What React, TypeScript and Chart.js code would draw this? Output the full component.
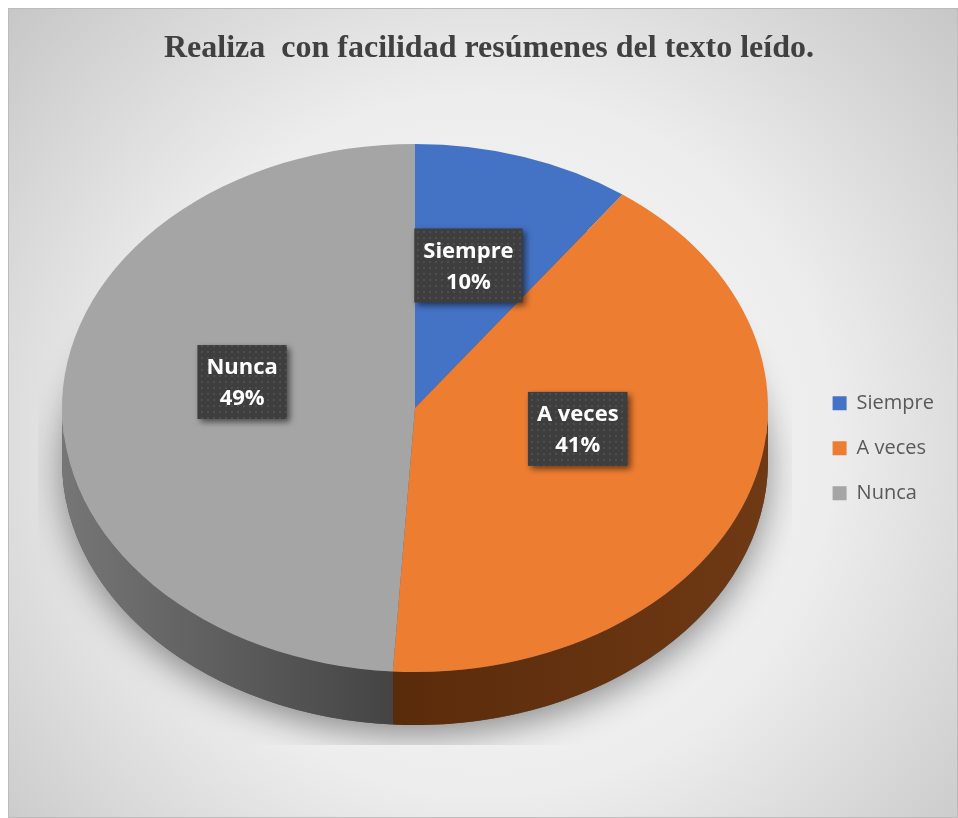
import React, { useEffect, useRef } from 'react';
import { Chart, registerables } from 'chart.js';

Chart.register(...registerables);

const titleText = 'Realiza  con facilidad resúmenes del texto leído.';
const categories = ['Siempre', 'A veces', 'Nunca'];
const values = [10, 41, 49];
const faceColors = ['#4472C4', '#ED7D31', '#A5A5A5'];
const sideColors = [
  ['#22396b', '#2b4783'],
  ['#5a2b0b', '#6f3914'],
  ['#767676', '#444444'],
];

// 3D view (projection of the library's pie)
const VIEW = { cx: 407, cy: 400, rx: 353, ry: 264, depth: 53 };

function makePattern(ctx: CanvasRenderingContext2D) {
  const c = document.createElement('canvas');
  c.width = 6;
  c.height = 6;
  const p = c.getContext('2d')!;
  p.fillStyle = '#3e3e3e';
  p.fillRect(0, 0, 6, 6);
  p.fillStyle = '#4e4e4e';
  p.fillRect(1, 1, 2, 2);
  return ctx.createPattern(c, 'repeat');
}

const pie3d = {
  id: 'pie3d',
  beforeDraw(chart: any) {
    const { ctx, width, height } = chart;
    ctx.save();
    const gx = width * 0.5;
    const gy = height * 0.54;
    const g = ctx.createRadialGradient(gx, gy, 0, gx, gy, Math.hypot(width, height) * 0.56);
    g.addColorStop(0, '#f8f8f8');
    g.addColorStop(0.5, '#ededed');
    g.addColorStop(1, '#c0c0c0');
    ctx.fillStyle = g;
    ctx.fillRect(0, 0, width, height);
    ctx.strokeStyle = '#bcbcbc';
    ctx.lineWidth = 1;
    ctx.strokeRect(0.5, 0.5, width - 1, height - 1);
    ctx.restore();
  },
  beforeDatasetsDraw(chart: any) {
    const { ctx } = chart;
    const meta = chart.getDatasetMeta(0);
    const arcs = meta.data;
    const { x, y, outerRadius } = arcs[0].getProps(['x', 'y', 'outerRadius'], true);
    const { cx, cy, rx, ry, depth } = VIEW;

    // soft shadow (clipped like the original plot area)
    ctx.save();
    ctx.beginPath();
    ctx.rect(cx - rx - 24, 0, 2 * rx + 48, cy + ry + depth + 20);
    ctx.clip();
    ctx.shadowColor = 'rgba(0,0,0,0.42)';
    ctx.shadowBlur = 34;
    ctx.shadowOffsetY = 10;
    ctx.beginPath();
    ctx.ellipse(cx, cy + depth, rx, ry, 0, 0, Math.PI * 2);
    ctx.fillStyle = '#555';
    ctx.fill();
    ctx.restore();

    // sides
    arcs.forEach((arc: any, i: number) => {
      const { startAngle, endAngle } = arc.getProps(['startAngle', 'endAngle'], true);
      const a = Math.max(startAngle, 0);
      const b = Math.min(endAngle, Math.PI);
      if (b <= a) return;
      ctx.save();
      ctx.beginPath();
      ctx.ellipse(cx, cy, rx, ry, 0, a, b, false);
      ctx.ellipse(cx, cy + depth, rx, ry, 0, b, a, true);
      ctx.closePath();
      const xa = cx + rx * Math.cos(a);
      const xb = cx + rx * Math.cos(b);
      const g = ctx.createLinearGradient(Math.min(xa, xb), 0, Math.max(xa, xb), 0);
      const [c1, c2] = sideColors[i];
      g.addColorStop(0, c1);
      g.addColorStop(1, c2);
      ctx.fillStyle = g;
      ctx.fill();
      ctx.restore();
    });

    ctx.save();
    ctx.translate(cx, cy);
    ctx.scale(rx / outerRadius, ry / outerRadius);
    ctx.translate(-x, -y);
  },
  afterDatasetsDraw(chart: any) {
    const { ctx } = chart;
    ctx.restore();
    const meta = chart.getDatasetMeta(0);
    const { cx, cy, rx, ry } = VIEW;
    const total = values.reduce((s, v) => s + v, 0);
    const pattern = makePattern(ctx);
    meta.data.forEach((arc: any, i: number) => {
      const { startAngle, endAngle } = arc.getProps(['startAngle', 'endAngle'], true);
      const mid = (startAngle + endAngle) / 2;
      const lx = cx + rx * Math.cos(mid) * 0.49;
      const ly = cy - 22 + ry * Math.sin(mid) * 0.48;
      const lines = [categories[i], Math.round((values[i] / total) * 100) + '%'];
      ctx.save();
      ctx.font = 'bold 22px "Open Sans"';
      const w = Math.max(...lines.map((t) => ctx.measureText(t).width)) + 18;
      const h = 74;
      ctx.shadowColor = 'rgba(0,0,0,0.55)';
      ctx.shadowBlur = 6;
      ctx.shadowOffsetX = 3;
      ctx.shadowOffsetY = 3;
      ctx.fillStyle = pattern || '#404040';
      ctx.fillRect(lx - w / 2, ly - h / 2, w, h);
      ctx.shadowColor = 'transparent';
      ctx.fillStyle = '#ffffff';
      ctx.textAlign = 'center';
      ctx.textBaseline = 'middle';
      ctx.fillText(lines[0], lx, ly - 14);
      ctx.fillText(lines[1], lx, ly + 17);
      ctx.restore();
    });
  },
};

export default function App() {
  const ref = useRef<HTMLCanvasElement>(null);
  useEffect(() => {
    document.body.style.margin = '8px 0 0 8px';
    document.body.style.overflow = 'hidden';
    const chart = new Chart(ref.current!, {
      type: 'pie',
      data: {
        labels: categories,
        datasets: [
          {
            data: values,
            backgroundColor: faceColors,
            borderWidth: 0,
            clip: false as any,
          },
        ],
      },
      options: {
        responsive: false,
        animation: false,
        events: [],
        layout: { padding: { left: 26, right: 14, top: 0, bottom: 0 } },
        plugins: {
          title: {
            display: true,
            text: titleText,
            color: '#404040',
            font: { family: '"Liberation Serif"', size: 32, weight: 'bold' },
            padding: { top: 22, bottom: 10 },
          },
          legend: {
            position: 'right',
            fullSize: false,
            labels: {
              boxWidth: 14,
              boxHeight: 14,
              padding: 25,
              color: '#595959',
              font: { family: '"Open Sans"', size: 20 },
            },
          },
          tooltip: { enabled: false },
        },
      },
      plugins: [pie3d],
    });
    return () => chart.destroy();
  }, []);
  return <canvas ref={ref} width={950} height={810} style={{ display: 'block' }} />;
}
